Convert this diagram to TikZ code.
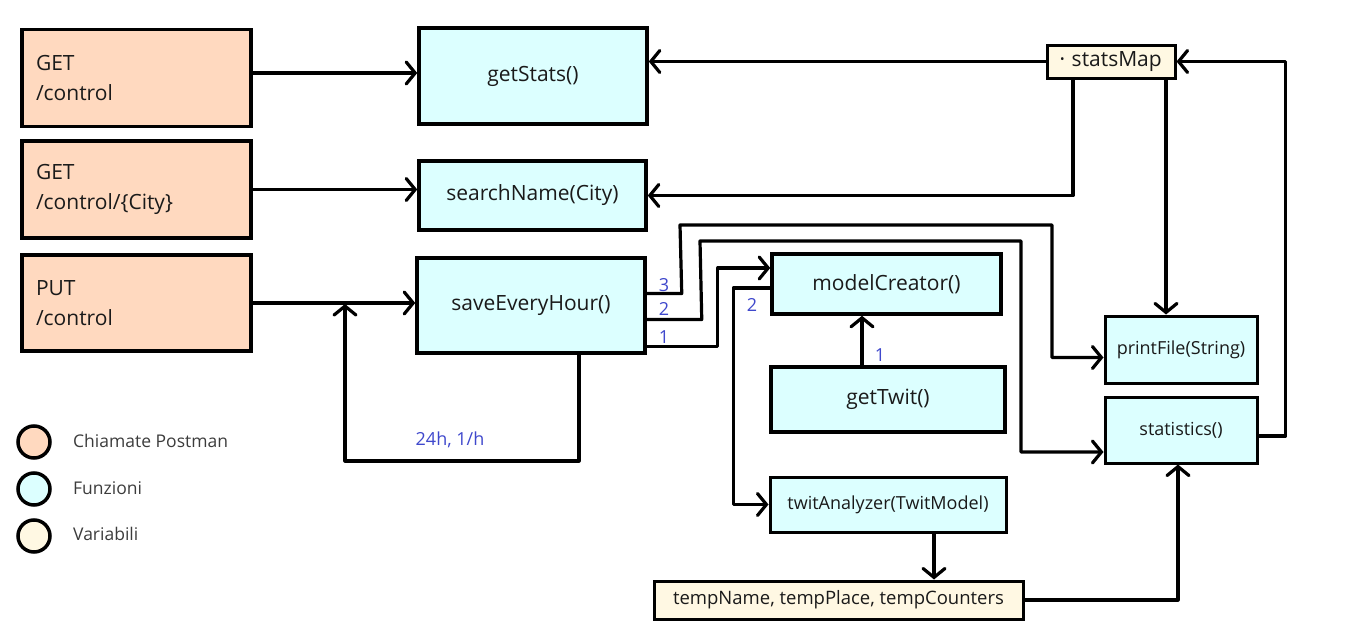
\documentclass[tikz,border=0pt]{standalone}
\usepackage{fontspec}
\setmainfont{Open Sans}
\usetikzlibrary{arrows.meta}
\definecolor{peach}{HTML}{FFD9BF}
\definecolor{funcc}{HTML}{DCFFFF}
\definecolor{varc}{HTML}{FFF8E3}
\definecolor{lblue}{HTML}{3F48CC}
\definecolor{txt}{HTML}{1A1A1A}
\tikzset{
  base/.style={draw=black, line width=3.5pt, inner sep=0pt, text=txt},
  big/.style={font=\fontsize{21}{30}\selectfont},
  small/.style={font=\fontsize{18}{22}\selectfont},
  post/.style={base, big, fill=peach, align=left, inner xsep=14pt, text width=201pt, minimum height=#1},
  func/.style={base, big, fill=funcc},
  funcs/.style={base, small, fill=funcc, line width=3pt},
  var/.style={base, fill=varc, line width=3pt},
  conn/.style={line width=3.2pt, line join=round, -{Straight Barb[length=9pt,width=22pt,line cap=round]}},
  num/.style={text=lblue, font=\fontsize{18}{20}\selectfont, inner sep=0pt},
  legc/.style={circle, draw=black, line width=3.5pt, minimum size=32pt, inner sep=0pt},
  legt/.style={anchor=west, text=txt!85, font=\fontsize{17.5}{20}\selectfont, inner sep=0pt}
}
\begin{document}
\begin{tikzpicture}[x=1pt,y=-1pt]
\useasboundingbox (0,0) rectangle (1350,629);
% Postman calls
\node[post=97pt] (g1) at (136.5,78) {GET\\/control};
\node[post=97pt] (g2) at (136.5,189.5) {GET\\/control/\{City\}};
\node[post=96pt] (g3) at (136.5,303) {PUT\\/control};
% functions
\node[func, minimum width=228pt, minimum height=96pt] (gs) at (533,76) {getStats()};
\node[func, minimum width=227pt, minimum height=69pt] (sn) at (532.5,195.5) {searchName(City)};
\node[func, minimum width=228pt, minimum height=95pt] (se) at (531,305.5) {saveEveryHour()};
\node[func, minimum width=229pt, minimum height=60pt] (mc) at (886.5,284) {modelCreator()};
\node[func, minimum width=234pt, minimum height=65pt] (gt) at (888,399.5) {getTwit()};
\node[funcs, minimum width=236pt, minimum height=55pt] (ta) at (888,504.5) {twitAnalyzer(TwitModel)};
\node[funcs, minimum width=152pt, minimum height=67pt] (pf) at (1181,349.5) {printFile(String)};
\node[funcs, minimum width=152pt, minimum height=66pt] (st) at (1181,430) {statistics()};
% variables
\node[var, big, minimum width=128pt, minimum height=33pt] (sm) at (1111,61.5) {{\fontsize{12}{12}\selectfont\raisebox{3pt}{•}}\hspace{7pt}statsMap};
\node[var, font=\fontsize{18.5}{22}\selectfont, minimum width=369pt, minimum height=38pt] (tn) at (838.5,600) {tempName, tempPlace, tempCounters};
% connectors from Postman
\draw[conn] ([yshift=5pt]g1.east) coordinate (a1) -- (gs.west |- a1);
\draw[conn] (g2.east) -- (sn.west |- g2.east);
\draw[conn] (g3.east) -- (se.west |- g3.east);
% loop
\coordinate (lp) at (345,304);
\draw[conn] ([xshift=48pt]se.south) |- (345,461) -- (lp);
\node[num] (l24) at (450,440) {24h, 1/h};
% statsMap
\draw[conn] (sm.west) -- (gs.east |- sm.west);
\draw[conn] ([xshift=-38pt]sm.south) |- (sn.east);
\draw[conn] ([xshift=55pt]sm.south) -- ([xshift=-15pt]pf.north);
\draw[conn] ([yshift=-6pt]st.east) -- ++(27,0) |- (sm.east);
% saveEveryHour outputs
\draw[conn] ([yshift=12pt]se.east) -- ++(35,0) -- (680,225) -- (1052,225) |- ([yshift=-8pt]pf.west);
\draw[conn] ([yshift=-14pt]se.east) -- ++(55,0) -- (700,241) -- (1021,241) |- ([yshift=-22pt]st.west);
\draw[conn] ([yshift=-41pt]se.east) -- ++(71,0) |- ([yshift=16pt]mc.west);
\node[num] (n3) at (664,285) {3};
\node[num] (n2) at (664,309) {2};
\node[num] (n1) at (664,337) {1};
% modelCreator -> twitAnalyzer
\draw[conn] ([yshift=-4pt]mc.west) -- ++(-37,0) |- (ta.west);
\node[num] (m2) at (752,305) {2};
% getTwit -> modelCreator
\draw[conn] ([xshift=-26pt]gt.north) -- ([xshift=-26pt]gt.north |- mc.south);
\node[num] (m1) at (880,355) {1};
% twitAnalyzer -> temp
\draw[conn] ([xshift=46pt]ta.south) -- ([xshift=46pt]ta.south |- tn.north);
% temp -> statistics
\draw[conn] (tn.east) -| ([xshift=-3pt]st.south);
% legend
\node[legc, fill=peach] (c1) at (34,442) {};
\node[legc, fill=funcc] (c2) at (34,489) {};
\node[legc, fill=varc] (c3) at (34,536) {};
\node[legt] (t1) at (73,441) {Chiamate Postman};
\node[legt] (t2) at (73,488) {Funzioni};
\node[legt] (t3) at (73,534) {Variabili};
\end{tikzpicture}
\end{document}
